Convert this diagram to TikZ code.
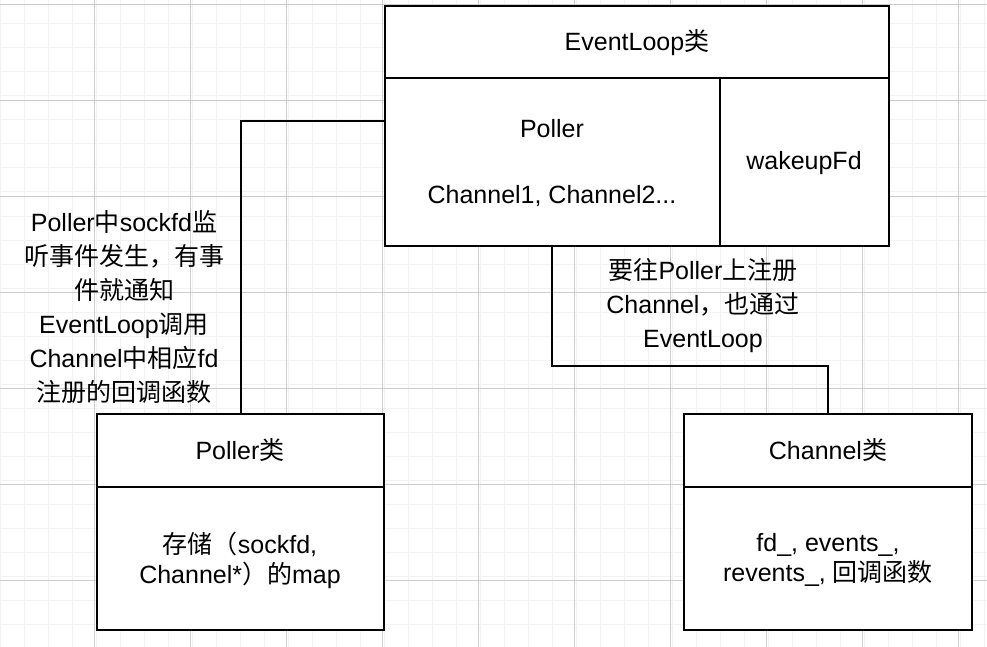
\documentclass[tikz,border=0pt]{standalone}
\usepackage{fontspec}
\setmainfont{Liberation Sans}
\newfontfamily\cjk{Noto Sans CJK SC}
\usetikzlibrary{positioning}
\newcommand{\zh}[1]{{\cjk #1}}

\begin{document}
\begin{tikzpicture}[
        x=1pt, y=-1pt,
        box/.style={draw, line width=2pt, fill=white},
        txt/.style={font=\fontsize{25}{30}\selectfont, align=center, inner sep=0pt},
        wire/.style={line width=2pt}
    ]
        \useasboundingbox (0,0) rectangle (987,647);
        % Grid background
        \fill[white] (0,0) rectangle (987,647);
        \draw[black!5, line width=1pt] (-2,-20) grid[step=24pt] (987,647);
        \foreach \gx in {94,190,...,987} \draw[black!20, line width=0.8pt] (\gx,0) -- (\gx,647);
        \foreach \gy in {4,100,...,647} \draw[black!20, line width=0.8pt] (0,\gy) -- (987,\gy);

        % Connectors
        \coordinate (c1) at (241,121);
        \coordinate (c2) at (552,366);
        \coordinate (c3) at (828,366);

        % EventLoop class
        \draw[box] (385,6) rectangle (889,246);
        \draw[wire] (385,78) -- (889,78);
        \draw[wire] (720,78) -- (720,246);
        \node[txt] (loop) at (637,43) {EventLoop\zh{类}};
        \node[txt] (poller) at (552,129) {Poller};
        \node[txt] (chans) at (552,196) {Channel1, Channel2...};
        \node[txt] (wake) at (804,163) {wakeupFd};
        \coordinate (loopW) at (385,121);
        \coordinate (loopS) at (552,246);

        % Poller class
        \draw[box] (97,414) rectangle (384,630);
        \draw[wire] (97,487) -- (384,487);
        \node[txt] (pc) at (240,450) {Poller\zh{类}};
        \node[txt] (pmap) at (240,560) {\zh{存储（}sockfd,\\Channel*\zh{）的}map};
        \coordinate (pollN) at (241,414);

        % Channel class
        \draw[box] (684,414) rectangle (972,630);
        \draw[wire] (684,487) -- (972,487);
        \node[txt] (cc) at (828,450) {Channel\zh{类}};
        \node[txt] (cfd) at (828,560) {fd\_, events\_,\\revents\_, \zh{回调函数}};
        \coordinate (chanN) at (828,414);

        % Lines
        \draw[wire] (loopW) -- (c1) -- (pollN);
        \draw[wire] (loopS) -- (c2) -- (c3) -- (chanN);

        % Labels
        \node[txt, font=\fontsize{25}{34}\selectfont] (lbl1) at (124,307) {Poller\zh{中}sockfd\zh{监}\\\zh{听事件发生，有事}\\\zh{件就通知}\\EventLoop\zh{调用}\\Channel\zh{中相应}fd\\\zh{注册的回调函数}};
        \node[txt, font=\fontsize{25}{34}\selectfont] (lbl2) at (703,306) {\zh{要往}Poller\zh{上注册}\\Channel\zh{，也通过}\\EventLoop};
    \end{tikzpicture}
\end{document}
